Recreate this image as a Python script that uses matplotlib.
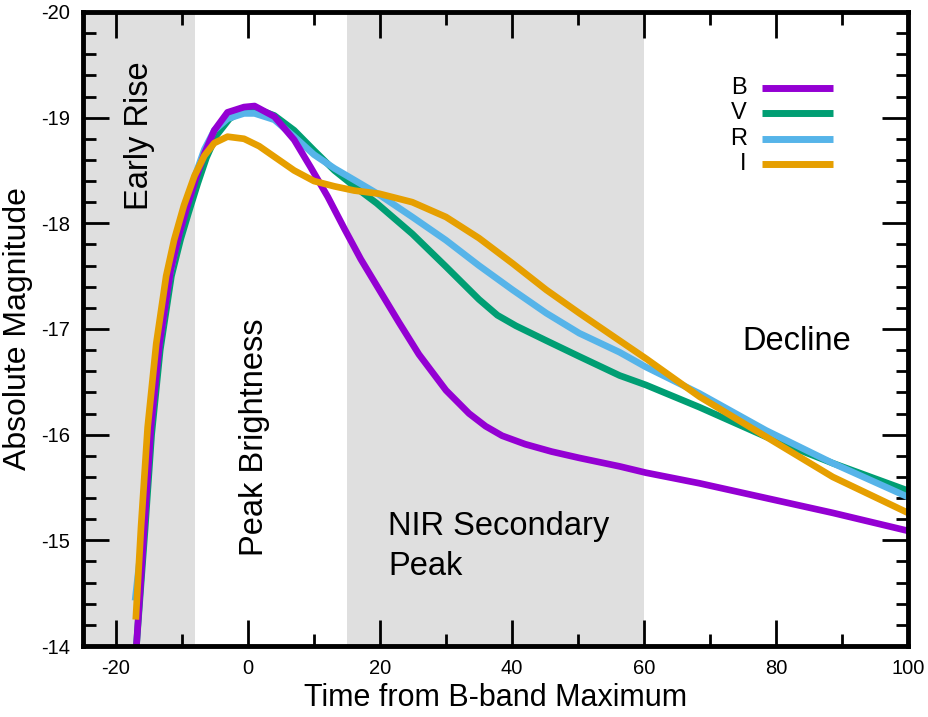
import matplotlib
matplotlib.use("Agg")
import matplotlib.pyplot as plt
from matplotlib.ticker import MultipleLocator

plt.rcParams['font.family'] = ['Liberation Sans', 'DejaVu Sans']
plt.rcParams['axes.unicode_minus'] = False

# light curves (days from B max, absolute mag)
t_B = [-16.9, -15.7, -14.7, -13.4, -11.7, -10.4, -9.2, -7.9, -6.6, -5.1, -3.1,
       -0.6, 1.0, 4.0, 7.0, 9.5, 12.1, 14.6, 17.1, 19.9, 22.9, 25.9, 30.0,
       33.5, 36.0, 38.5, 42.0, 46.0, 50.2, 56.3, 60.3, 68.4, 78.5, 88.6, 100]
m_B = [-14.0, -15.13, -16.07, -16.86, -17.56, -17.9, -18.16, -18.42, -18.66,
       -18.88, -19.05, -19.10, -19.11, -19.01, -18.79, -18.53, -18.25, -17.95,
       -17.66, -17.37, -17.06, -16.76, -16.42, -16.20, -16.08, -15.99, -15.91,
       -15.84, -15.78, -15.70, -15.64, -15.54, -15.40, -15.26, -15.09]

t_V = [-16.9, -15.6, -14.6, -13.3, -11.6, -10.2, -9.0, -7.6, -6.3, -4.8, -2.8,
       -0.6, 1.0, 4.0, 7.0, 10.0, 13.1, 16.1, 19.5, 24.9, 30.0, 35.0, 37.8,
       40.6, 45.2, 50.2, 56.3, 60.3, 68.4, 78.5, 88.6, 100]
m_V = [-14.0, -15.1, -16.0, -16.8, -17.5, -17.85, -18.1, -18.38, -18.62,
       -18.83, -18.99, -19.07, -19.09, -19.02, -18.88, -18.69, -18.50, -18.35,
       -18.19, -17.90, -17.59, -17.28, -17.13, -17.03, -16.89, -16.74, -16.56,
       -16.47, -16.26, -15.98, -15.73, -15.47]

t_R = [-17.1, -15.9, -14.9, -13.6, -11.9, -10.6, -9.3, -7.9, -6.6, -5.1, -3.1,
       -0.6, 1.0, 4.0, 7.0, 10.0, 13.1, 16.1, 19.9, 24.9, 30.0, 35.0, 40.1,
       45.2, 50.2, 56.3, 60.3, 68.4, 78.5, 88.6, 100]
m_R = [-14.43, -15.1, -16.0, -16.8, -17.5, -17.87, -18.17, -18.47, -18.7,
       -18.88, -18.99, -19.04, -19.04, -18.98, -18.82, -18.65, -18.52, -18.41,
       -18.27, -18.06, -17.84, -17.60, -17.37, -17.15, -16.96, -16.78, -16.64,
       -16.39, -16.04, -15.73, -15.41]

t_I = [-17.0, -16.2, -15.2, -13.9, -12.4, -11.2, -9.7, -8.1, -6.6, -5.1, -3.1,
       -0.6, 1.7, 4.0, 7.0, 10.0, 13.1, 16.1, 19.9, 24.9, 30.0, 35.0, 40.1,
       45.2, 50.2, 56.3, 60.3, 68.4, 78.5, 88.6, 100]
m_I = [-14.25, -15.13, -16.07, -16.86, -17.50, -17.84, -18.17, -18.45, -18.64,
       -18.76, -18.82, -18.80, -18.73, -18.63, -18.50, -18.40, -18.35, -18.31,
       -18.28, -18.20, -18.06, -17.86, -17.62, -17.37, -17.15, -16.89, -16.72,
       -16.36, -15.98, -15.6, -15.26]

bands = ['B', 'V', 'R', 'I']
colors = {'B': '#9400d3', 'V': '#009e73', 'R': '#56b4e9', 'I': '#e69f00'}
curves = {'B': (t_B, m_B), 'V': (t_V, m_V), 'R': (t_R, m_R), 'I': (t_I, m_I)}

phases = [(-25, -8), (15, 60)]

fig = plt.figure(figsize=(9.29, 7.17), dpi=100)
ax = fig.add_axes([0.0893, 0.099, 0.8881, 0.8843])

for lo, hi in phases:
    ax.axvspan(lo, hi, color='#dfdfdf', lw=0, zorder=0)

for b in ['V', 'R', 'B', 'I']:
    t, m = curves[b]
    ax.plot(t, m, color=colors[b], lw=4.8, solid_capstyle='butt',
            solid_joinstyle='round', zorder=2)

ax.set_xlim(-25, 100)
ax.set_ylim(-14, -20)

ax.xaxis.set_major_locator(MultipleLocator(20))
ax.xaxis.set_minor_locator(MultipleLocator(10))
ax.yaxis.set_major_locator(MultipleLocator(1))
ax.yaxis.set_minor_locator(MultipleLocator(0.2))
ax.tick_params(which='both', direction='in', top=True, right=True,
               labelsize=14.5, width=2, pad=9)
ax.tick_params(which='major', length=19)
ax.tick_params(which='minor', length=9)
for s in ax.spines.values():
    s.set_linewidth(3.5)

ax.set_xlabel('Time from B-band Maximum', fontsize=22, labelpad=4)
ax.set_ylabel('Absolute Magnitude', fontsize=23, labelpad=6)

# phase labels
ax.text(-16.5, -18.83, 'Early Rise', rotation=90, fontsize=23.5,
        ha='center', va='center')
ax.text(0.95, -15.98, 'Peak Brightness', rotation=90, fontsize=23.5,
        ha='center', va='center')
ax.text(21.2, -14.94, 'NIR Secondary\nPeak', fontsize=23.5, ha='left',
        va='center', linespacing=1.4)
ax.text(74.9, -16.88, 'Decline', fontsize=23.5, ha='left', va='center')

# legend: label on the left, line on the right
rows = [0.8806, 0.8407, 0.7997, 0.7603]
for b, y in zip(bands, rows):
    ax.text(0.8045, y, b, transform=ax.transAxes, fontsize=17,
            ha='right', va='center')
    ax.plot([0.823, 0.909], [y, y], transform=ax.transAxes,
            color=colors[b], lw=5, solid_capstyle='butt')

fig.savefig('out.png', dpi=100)
